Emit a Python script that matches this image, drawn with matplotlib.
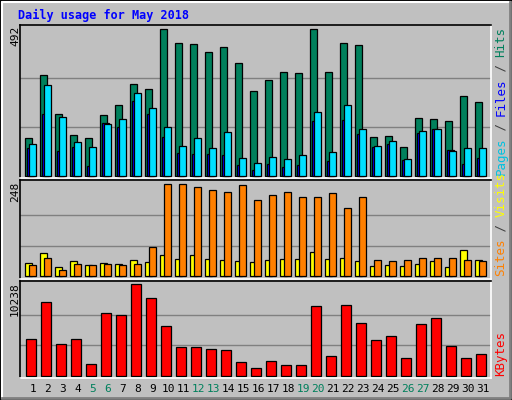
import matplotlib
matplotlib.use("Agg")
import matplotlib.pyplot as plt
from matplotlib.patches import Rectangle
import numpy as np

days = list(range(1, 32))
weekend = [5, 6, 12, 13, 19, 20, 26, 27]
hits = [126,338,207,136,126,204,237,307,291,492,445,442,415,432,378,284,321,348,344,492,348,445,438,130,133,96,193,190,183,267,247]
files = [93,207,83,96,32,177,163,250,207,130,76,73,73,69,36,19,39,29,36,183,49,187,140,96,106,53,143,157,86,39,59]
pages = [106,304,197,113,96,173,190,277,227,163,100,126,93,146,59,42,63,56,69,214,79,237,157,100,116,56,150,157,83,93,93]
sites = [35,62,24,40,30,35,32,43,38,57,46,57,46,43,40,38,43,46,46,65,46,49,40,27,30,27,32,40,24,70,43]
visits = [30,49,16,32,30,32,30,32,78,248,248,240,232,227,245,205,218,227,213,213,224,183,213,43,40,43,49,49,49,43,40]
kbytes = [4072,8219,3512,4072,1270,6986,6762,10238,8667,5529,3176,3176,2951,2839,1494,822,1606,1158,1158,7771,2167,7883,5866,3960,4408,1943,5753,6426,3288,1943,2391]
max_hits, max_visits, max_kb = 492, 248, 10238

W, H = 512, 400
fig = plt.figure(figsize=(5.12, 4.0), dpi=100)
fig.patch.set_facecolor("#C0C0C0")
mono = "DejaVu Sans Mono"

fig.add_artist(Rectangle((0, 0), 1, 1, transform=fig.transFigure, fill=False, ec="black", lw=1.5))
fig.add_artist(plt.Line2D([2/W, 2/W, 1-2/W], [2/H, 1-2/H, 1-2/H], transform=fig.transFigure, color="white", lw=1.5))
fig.add_artist(plt.Line2D([2/W, 1-2/W, 1-2/W], [2/H, 2/H, 1-2/H], transform=fig.transFigure, color="#808080", lw=2))

fig.text(18/W, 1-15/H, "Daily usage for May 2018", color="#0000FF", fontsize=8.5,
         fontweight="bold", family=mono, va="center", ha="left")

px = 1/15.0
x0 = 0.267
x1 = x0 + 470.7/15

def make_ax(top, bottom, ylim, maxv):
    ax = fig.add_axes([20/W, 1-bottom/H, 470.7/W, (bottom-top)/H])
    ax.set_facecolor("#C0C0C0")
    ax.set_xlim(x0, x1)
    ax.set_ylim(*ylim)
    ax.set_xticks([]); ax.set_yticks([])
    for v in (maxv/3, 2*maxv/3):
        ax.axhline(v, color="#808080", lw=1, zorder=0)
    ax.spines["top"].set_color("black"); ax.spines["left"].set_color("black")
    ax.spines["bottom"].set_color("white"); ax.spines["right"].set_color("white")
    for s in ax.spines.values():
        s.set_linewidth(1.2)
    return ax

d = np.array(days)
ax1 = make_ax(24.7, 178, (-6.7, 507.4), max_hits)
ax1.bar(d - 0.38, hits, width=7*px, align="edge", color="#00805C", ec="black", lw=0.9, zorder=2)
ax1.bar(d - 0.25, files, width=7*px, align="edge", color="#0000FF", ec="black", lw=0.9, zorder=3)
ax1.bar(d - 0.11, pages, width=7*px, align="edge", color="#00E0FF", ec="black", lw=0.9, zorder=4)

ax2 = make_ax(180.3, 279, (-7.3, 258.8), max_visits)
ax2.bar(d - 0.38, sites, width=7*px, align="edge", color="#FFFF00", ec="black", lw=0.9, zorder=2)
ax2.bar(d - 0.11, visits, width=7*px, align="edge", color="#FF8000", ec="black", lw=0.9, zorder=3)

ax3 = make_ax(280.7, 377.7, (-224, 10641), max_kb)
ax3.bar(d - 0.31, kbytes, width=10*px, align="edge", color="#FF0000", ec="black", lw=0.9, zorder=2)

fig.text(15/W, 1-26/H, str(max_hits), rotation=90, fontsize=8, family=mono, ha="center", va="top")
fig.text(15/W, 1-182/H, str(max_visits), rotation=90, fontsize=8, family=mono, ha="center", va="top")
fig.text(15/W, 1-282/H, str(max_kb), rotation=90, fontsize=8, family=mono, ha="center", va="top")

def vlegend(parts, ybottom, step=7.4):
    y = ybottom
    for txt, col in parts:
        fig.text(501/W, y/H, txt, rotation=90, fontsize=9, family=mono, color=col,
                 ha="center", va="bottom")
        y += len(txt) * step
vlegend([("Pages", "#00C0E0"), (" / ", "#404040"), ("Files", "#0000FF"), (" / ", "#404040"), ("Hits", "#00805C")], 400-175)
vlegend([("Sites", "#FF8000"), (" / ", "#404040"), ("Visits", "#FFFF00")], 400-276)
vlegend([("KBytes", "#FF0000")], 400-376)

for dd in days:
    xf = (20 + (dd - x0) * 15) / W
    fig.text(xf + 2/W, 1-389/H, str(dd), fontsize=8, family=mono, ha="center", va="center",
             color="#00805C" if dd in weekend else "black")

fig.savefig("out.png", dpi=100, facecolor=fig.get_facecolor())
